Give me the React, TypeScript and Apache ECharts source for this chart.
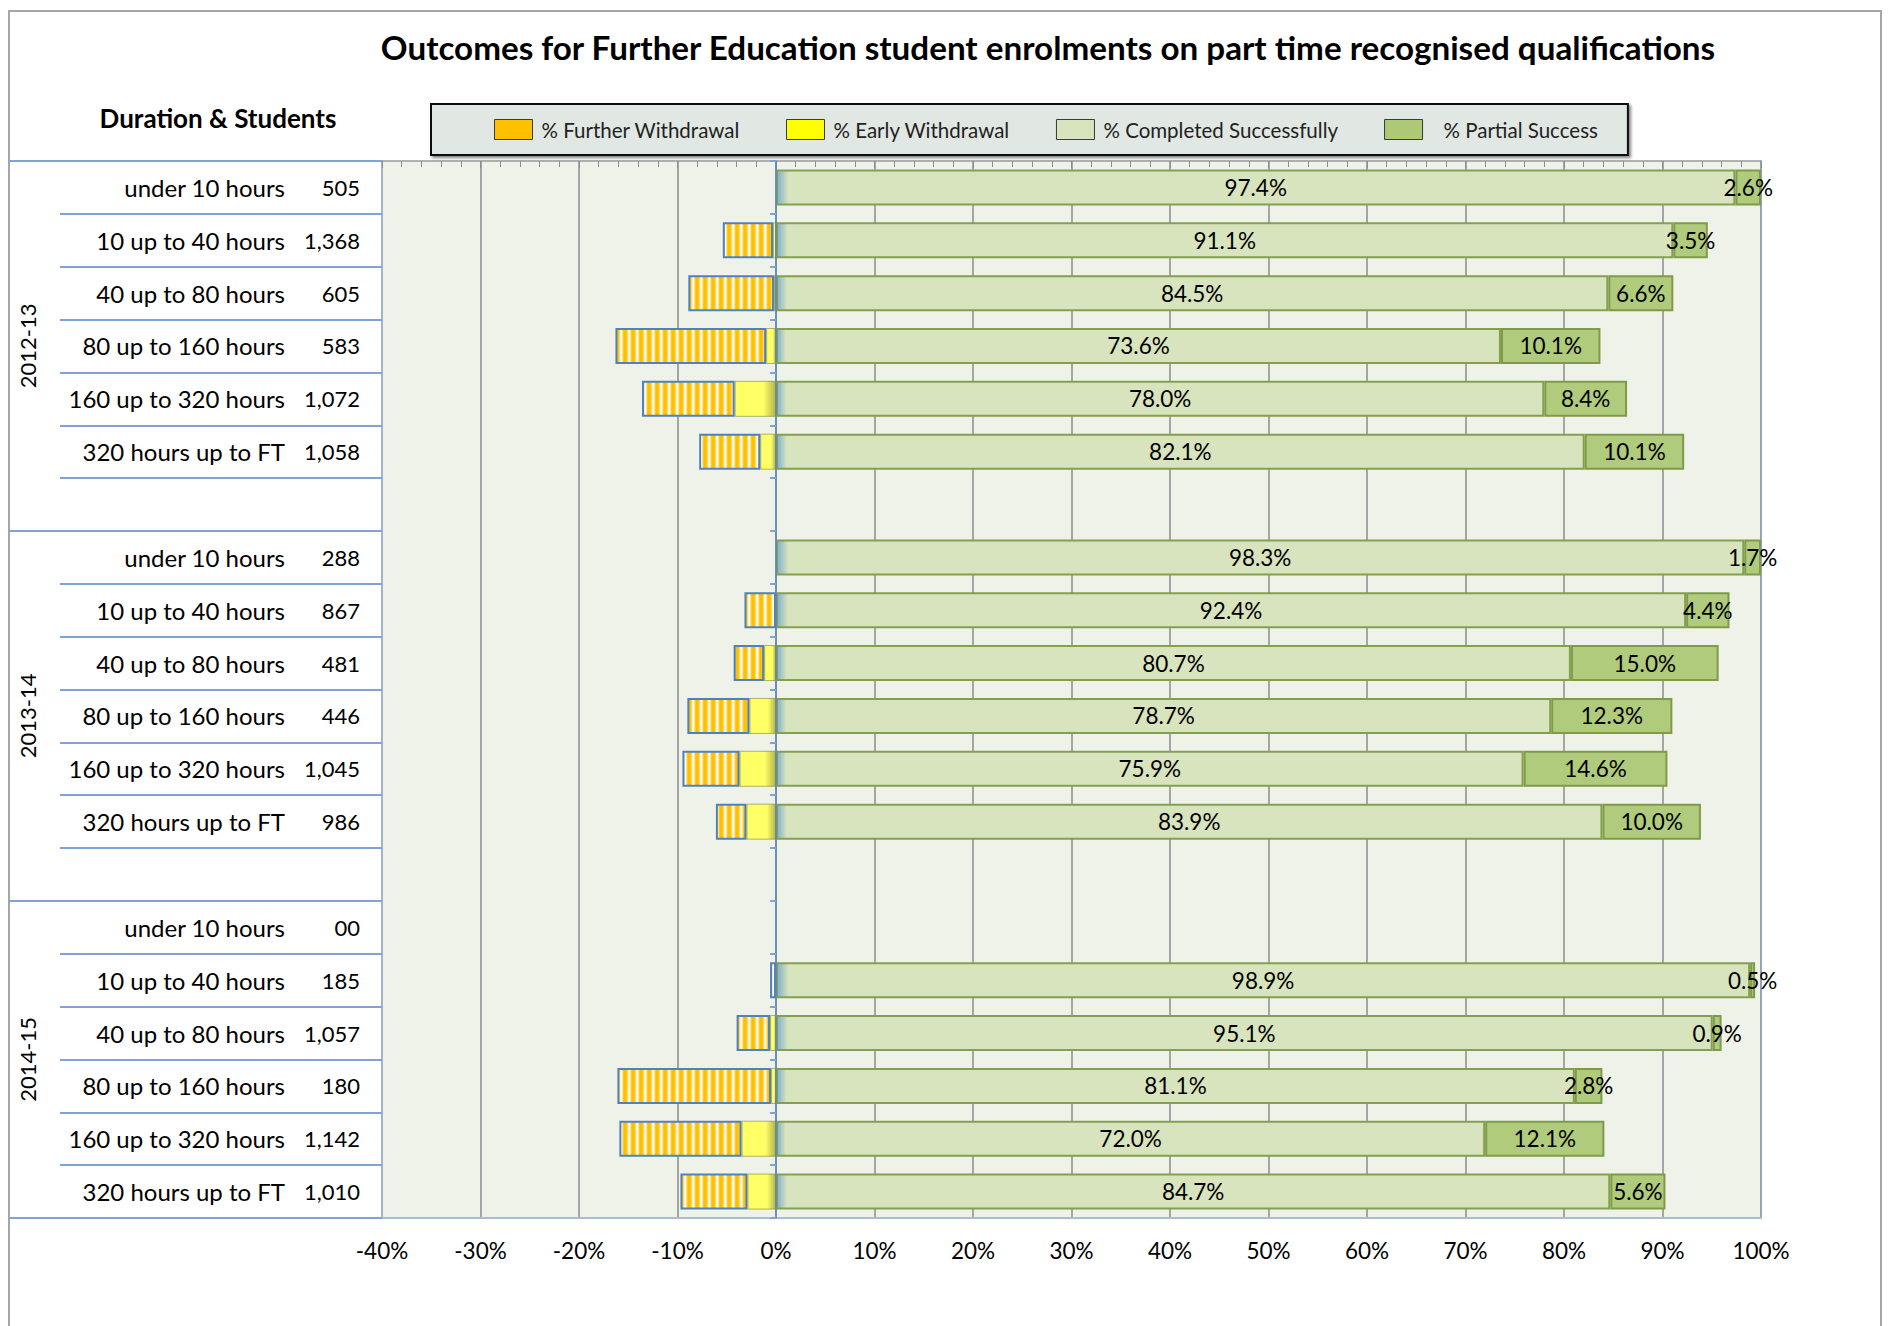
import React, { useEffect, useRef } from 'react';
import * as echarts from 'echarts';

// ---------------- Data ----------------
const years = ['2012-13', '2013-14', '2014-15'];
const durations = [
  'under 10 hours',
  '10 up to 40 hours',
  '40 up to 80 hours',
  '80 up to 160 hours',
  '160 up to 320 hours',
  '320 hours up to FT',
];
const students2012 = ['505', '1,368', '605', '583', '1,072', '1,058'];
const students2013 = ['288', '867', '481', '446', '1,045', '986'];
const students2014 = ['00', '185', '1,057', '180', '1,142', '1,010'];

const completed2012 = [97.4, 91.1, 84.5, 73.6, 78.0, 82.1];
const completed2013 = [98.3, 92.4, 80.7, 78.7, 75.9, 83.9];
const completed2014 = [null, 98.9, 95.1, 81.1, 72.0, 84.7];

const partial2012 = [2.6, 3.5, 6.6, 10.1, 8.4, 10.1];
const partial2013 = [1.7, 4.4, 15.0, 12.3, 14.6, 10.0];
const partial2014 = [null, 0.5, 0.9, 2.8, 12.1, 5.6];

// withdrawal shares (drawn to the left of 0%)
const further2012 = [0, 5.1, 8.7, 15.3, 9.4, 6.2];
const further2013 = [0, 3.2, 3.1, 6.3, 5.8, 3.1];
const further2014 = [null, 0.6, 3.4, 15.6, 12.4, 6.8];

const early2012 = [0, 0.3, 0.2, 1.0, 4.2, 1.6];
const early2013 = [0, 0, 1.2, 2.7, 3.7, 3.0];
const early2014 = [null, 0, 0.6, 0.5, 3.5, 2.9];

const xTicks = { min: -40, max: 100, interval: 10 };

const TITLE = 'Outcomes for Further Education student enrolments on part time recognised qualifications';
const LEFT_HEADER = 'Duration & Students';
const NAMES = ['% Further Withdrawal', '% Early Withdrawal', '% Completed Successfully', '% Partial Success'];

const FONT = 'Lato, "Open Sans", sans-serif';

// ---------------- Build rows ----------------
const studentsBy = [students2012, students2013, students2014];
const completedBy = [completed2012, completed2013, completed2014];
const partialBy = [partial2012, partial2013, partial2014];
const furtherBy = [further2012, further2013, further2014];
const earlyBy = [early2012, early2013, early2014];

const cats: string[] = [];
const rowDur: string[] = [];
const rowCnt: string[] = [];
const completedAll: (number | null)[] = [];
const partialAll: (number | null)[] = [];
const furtherAll: (number | null)[] = [];
const earlyAll: (number | null)[] = [];
const groupStart: number[] = [];
const groupLen: number[] = [];

years.forEach((y, yi) => {
  groupStart.push(cats.length);
  durations.forEach((d, di) => {
    cats.push(y + ' | ' + d);
    rowDur.push(d);
    rowCnt.push(studentsBy[yi][di]);
    completedAll.push(completedBy[yi][di]);
    partialAll.push(partialBy[yi][di]);
    const f = furtherBy[yi][di];
    const e = earlyBy[yi][di];
    furtherAll.push(f ? -f : null);
    earlyAll.push(e ? -e : null);
  });
  if (yi < years.length - 1) {
    cats.push(y + ' | blank');
    rowDur.push('');
    rowCnt.push('');
    completedAll.push(null);
    partialAll.push(null);
    furtherAll.push(null);
    earlyAll.push(null);
  }
  groupLen.push(cats.length - groupStart[yi]);
});

function makeStripes(): HTMLCanvasElement {
  const c = document.createElement('canvas');
  c.width = 8;
  c.height = 4;
  const ctx = c.getContext('2d')!;
  const cols = ['#FFC000', '#FFC000', '#FFC619', '#FFDA5E', '#FFF3C4', '#FFFFFF', '#FFE488', '#FFC82A'];
  cols.forEach((col, i) => {
    ctx.fillStyle = col;
    ctx.fillRect(i, 0, 1, 4);
  });
  return c;
}

export default function App() {
  const ref = useRef<HTMLDivElement>(null);

  useEffect(() => {
    document.body.style.margin = '0';
    if (!ref.current) return;
    const chart = echarts.init(ref.current, undefined, { renderer: 'svg' });
    const stripes = makeStripes();

    const labelFmt = (p: any) => (p.value == null ? '' : Number(p.value).toFixed(1) + '%');
    const txt = { fontFamily: FONT, color: '#000' };

    const earlyFill = new echarts.graphic.LinearGradient(0, 0, 1, 0, [
      { offset: 0, color: '#FFFF66' },
      { offset: 0.7, color: '#FFFF66' },
      { offset: 1, color: '#B5B54A' },
    ]);
    const completedFill = new echarts.graphic.LinearGradient(0, 0, 1, 0, [
      { offset: 0, color: '#7FAFCB' },
      { offset: 0.012, color: '#D8E4BE' },
      { offset: 1, color: '#D8E4BE' },
    ]);

    const option: any = {
      animation: false,
      backgroundColor: '#ffffff',
      title: [
        {
          text: TITLE,
          left: 1043,
          top: 25,
          textAlign: 'center',
          textStyle: { fontSize: 33.2, fontWeight: 'bold', fontFamily: FONT, color: '#000' },
        },
        {
          text: LEFT_HEADER,
          left: 213,
          top: 100,
          textAlign: 'center',
          textStyle: { fontSize: 26, fontWeight: 'bold', fontFamily: FONT, color: '#000' },
        },
      ],
      legend: {
        data: [
          { name: NAMES[0], itemStyle: { color: '#FFC000', borderColor: '#3A3A3A', borderWidth: 1 } },
          { name: NAMES[1], itemStyle: { color: '#FFFF00', borderColor: '#3A3A3A', borderWidth: 1 } },
          { name: NAMES[2], itemStyle: { color: '#D7E4BD', borderColor: '#3A3A3A', borderWidth: 1 } },
          {
            name: NAMES[3],
            itemStyle: { color: '#ADC975', borderColor: '#3A3A3A', borderWidth: 1 },
            textStyle: { padding: [0, 0, 0, 16] },
          },
        ],
        left: 431,
        top: 104,
        icon: 'rect',
        itemWidth: 38,
        itemHeight: 20,
        itemGap: 46,
        padding: [15, 30, 15, 63],
        backgroundColor: '#E1E8E3',
        borderColor: '#111111',
        borderWidth: 2,
        shadowColor: 'rgba(0,0,0,0.5)',
        shadowBlur: 3,
        shadowOffsetX: 2,
        shadowOffsetY: 2,
        selectedMode: false,
        textStyle: { fontSize: 20.5, color: '#222', fontFamily: FONT, padding: [0, 0, 0, 4] },
      },
      grid: {
        left: 382,
        right: 133,
        top: 161,
        bottom: 108,
        show: true,
        backgroundColor: '#EFF2E9',
        borderWidth: 0,
        containLabel: false,
        outerBoundsMode: 'none',
      },
      xAxis: [
        {
          type: 'value',
          position: 'bottom',
          min: xTicks.min,
          max: xTicks.max,
          interval: xTicks.interval,
          axisLine: { show: true, onZero: false, lineStyle: { color: '#A7BDD7', width: 2 } },
          axisTick: { show: false },
          axisLabel: { formatter: '{value}%', fontSize: 22.5, margin: 21, ...txt },
          splitLine: { show: true, lineStyle: { color: '#8C8C8C', width: 1.5 } },
        },
        {
          type: 'value',
          position: 'top',
          min: xTicks.min,
          max: xTicks.max,
          interval: xTicks.interval,
          axisLine: { show: true, onZero: false, lineStyle: { color: '#9A9A9A', width: 1.5 } },
          axisTick: { show: true, inside: true, length: 7, lineStyle: { color: '#8C8C8C' } },
          minorTick: { show: true, splitNumber: 5, length: 6, lineStyle: { color: '#8C8C8C' } },
          axisLabel: { show: false },
          splitLine: { show: false },
        },
      ],
      yAxis: [
        {
          type: 'category',
          data: cats,
          inverse: true,
          position: 'left',
          axisLine: { show: true, onZero: false, lineStyle: { color: '#9DB5D3', width: 2 } },
          axisTick: { show: true, interval: 0, length: 322, lineStyle: { color: '#7FA3D2', width: 2 } },
          axisLabel: {
            interval: 0,
            margin: 22,
            formatter: (_v: string, i: number) => (rowDur[i] ? `{a|${rowDur[i]}}{b|${rowCnt[i]}}` : ''),
            rich: {
              a: { width: 245, align: 'right', fontSize: 24, ...txt },
              b: { width: 75, align: 'right', fontSize: 22, ...txt },
            },
          },
          splitLine: { show: false },
        },
        {
          type: 'category',
          data: cats,
          inverse: true,
          position: 'left',
          axisLine: { show: true, onZero: true, lineStyle: { color: '#5B86C0', width: 1.5 } },
          axisTick: { show: true, interval: 0, length: 6, lineStyle: { color: '#7FA3D2', width: 2 } },
          axisLabel: { show: false },
          splitLine: { show: false },
          z: 5,
        },
        {
          type: 'category',
          data: cats,
          inverse: true,
          position: 'right',
          axisLine: { show: true, onZero: false, lineStyle: { color: '#8EA3C0', width: 1.5 } },
          axisTick: { show: false },
          axisLabel: { show: false },
          splitLine: { show: false },
        },
      ],
      series: [
        {
          name: NAMES[1],
          type: 'bar',
          stack: 'total',
          barWidth: 36,
          data: earlyAll,
          itemStyle: { color: earlyFill, borderColor: 'rgba(120,120,40,0.55)', borderWidth: 1 },
        },
        {
          name: NAMES[0],
          type: 'bar',
          stack: 'total',
          barWidth: 36,
          data: furtherAll,
          itemStyle: {
            color: { image: stripes, repeat: 'repeat', imageWidth: 8, imageHeight: 4 },
            borderColor: '#4F81BD',
            borderWidth: 2,
          },
        },
        {
          name: NAMES[2],
          type: 'bar',
          stack: 'total',
          barWidth: 36,
          data: completedAll,
          itemStyle: { color: completedFill, borderColor: '#84A04E', borderWidth: 2 },
          label: { show: true, position: 'inside', formatter: labelFmt, fontSize: 22.5, ...txt },
        },
        {
          name: NAMES[3],
          type: 'bar',
          stack: 'total',
          barWidth: 36,
          data: partialAll,
          itemStyle: { color: '#B0CB7C', borderColor: '#7F9A48', borderWidth: 2 },
          label: { show: true, position: 'inside', formatter: labelFmt, fontSize: 22.5, ...txt },
        },
      ],
    };

    chart.setOption(option);

    // decorations derived from the category axis
    const c0 = chart.convertToPixel({ yAxisIndex: 0 }, cats[0]) as number;
    const c1 = chart.convertToPixel({ yAxisIndex: 0 }, cats[1]) as number;
    const band = c1 - c0;
    const boundary = (k: number) => c0 - band / 2 + k * band;
    const graphics: any[] = [
      {
        type: 'rect',
        silent: true,
        shape: { x: 9, y: 11, width: 1872, height: 1400 },
        style: { fill: 'none', stroke: '#A6A6A6', lineWidth: 2 },
        z: -1,
      },
    ];
    const gb = [...groupStart, cats.length];
    gb.forEach((k) => {
      const y = boundary(k);
      graphics.push({
        type: 'line',
        silent: true,
        shape: { x1: 9, y1: y, x2: 62, y2: y },
        style: { stroke: '#7FA3D2', lineWidth: 2 },
      });
    });
    years.forEach((yr, yi) => {
      const cy = boundary(groupStart[yi]) + (groupLen[yi] * band) / 2;
      graphics.push({
        type: 'text',
        silent: true,
        x: 27,
        y: cy,
        rotation: Math.PI / 2,
        style: {
          text: yr,
          fontSize: 22,
          fontFamily: FONT,
          fill: '#000',
          align: 'center',
          verticalAlign: 'middle',
        },
      });
    });
    chart.setOption({ graphic: graphics });

    return () => chart.dispose();
  }, []);

  return <div ref={ref} style={{ width: 1894, height: 1326 }} />;
}
